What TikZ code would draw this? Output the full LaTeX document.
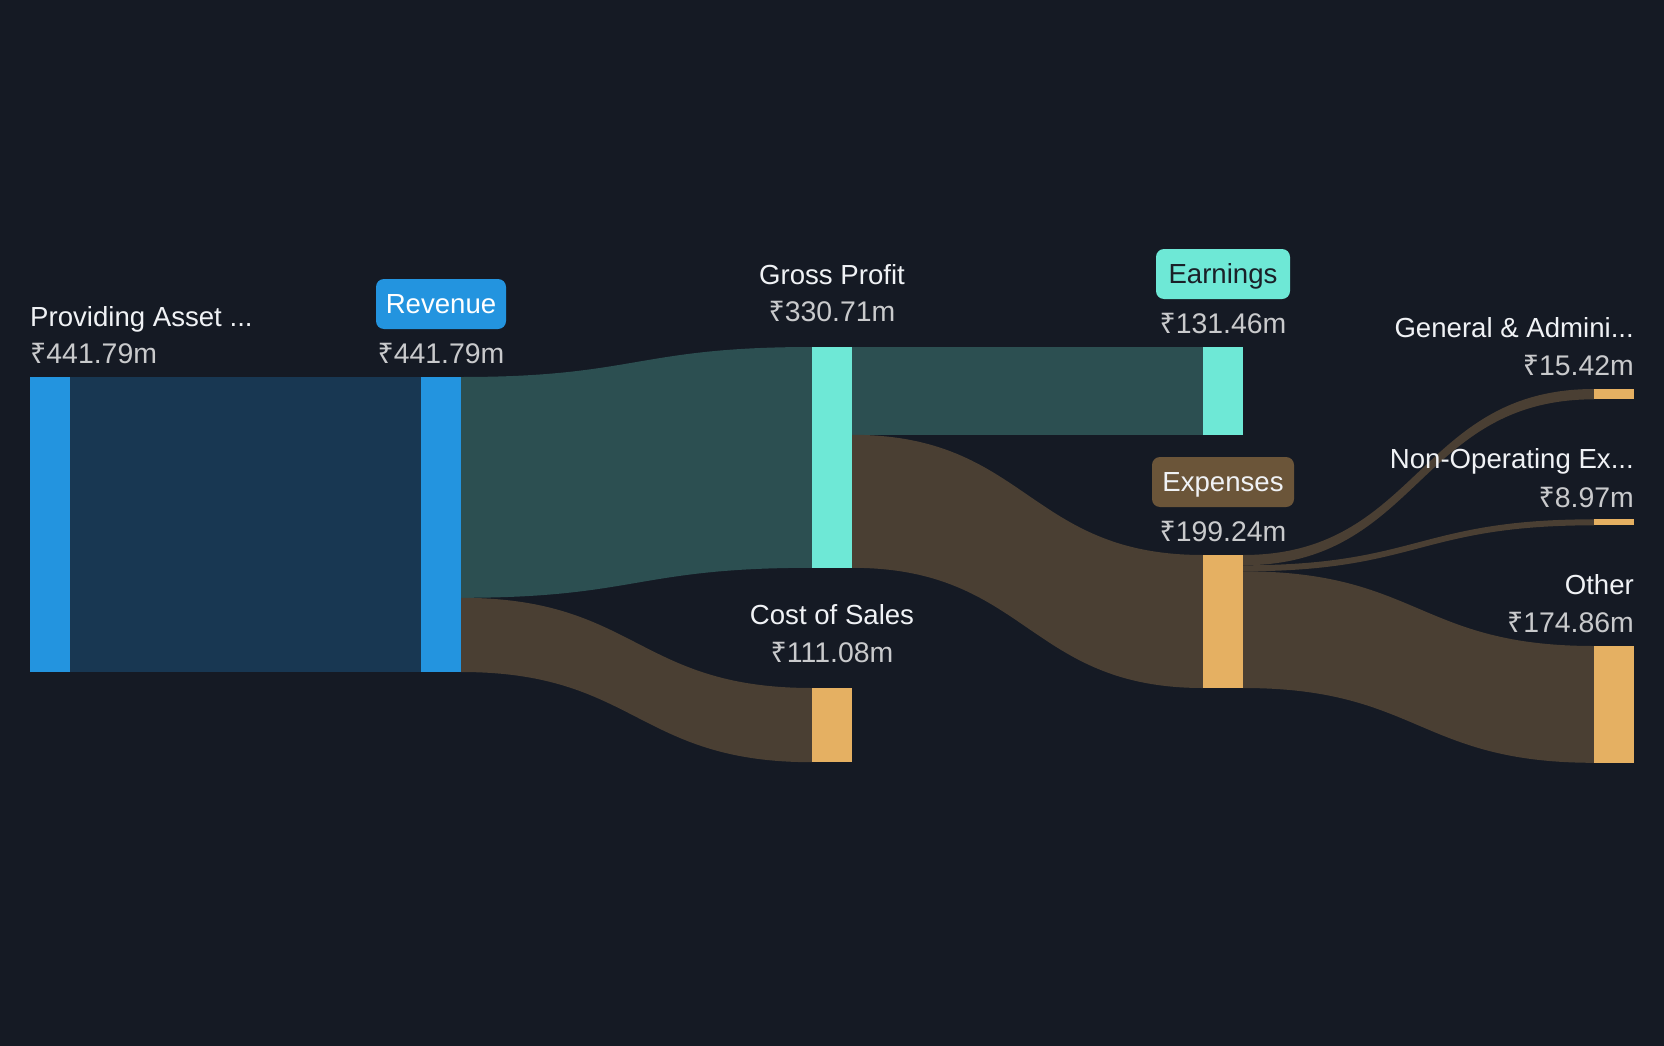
\documentclass[tikz,border=0pt]{standalone}
\usepackage{fontspec}
\setmainfont{Liberation Sans}
\newfontfamily\rupfont{Noto Sans}
\usetikzlibrary{calc}
\newcommand{\Rs}{{\rupfont ₹}}
\definecolor{bgc}{HTML}{151A24}
\definecolor{cblue}{HTML}{2394DF}
\definecolor{cteal}{HTML}{6EE8D6}
\definecolor{corange}{HTML}{E5B062}
\definecolor{fblue}{HTML}{183752}
\definecolor{fteal}{HTML}{2C4F51}
\definecolor{fbrown}{HTML}{4A3F33}
\definecolor{cbadgebrown}{HTML}{6B5539}
\definecolor{cname}{HTML}{F0F2F5}
\definecolor{cval}{HTML}{C9CACC}
\definecolor{cdark}{HTML}{1A2028}
\pgfdeclarelayer{back}
\pgfsetlayers{back,main}
\begin{document}
\begin{tikzpicture}[x=1pt,y=-1pt,
  bar/.style={anchor=north west,inner sep=0pt,outer sep=0pt,minimum width=40pt},
  lname/.style={inner sep=0pt,text=cname,font=\fontsize{27.6}{32}\selectfont},
  lval/.style={inner sep=0pt,text=cval,font=\fontsize{28.4}{32}\selectfont},
  badge/.style={inner sep=0pt,rounded corners=8pt,minimum height=50pt,text height=19.5pt,text depth=0pt,font=\fontsize{27.6}{32}\selectfont}]
\useasboundingbox (0,0) rectangle (1664,1046);
% bars
\node[bar,fill=cblue,minimum height=295pt] (P) at (30,377) {};
\node[bar,fill=cblue,minimum height=295pt] (R) at (421,377) {};
\node[bar,fill=cteal,minimum height=220.8pt] (GP) at (812,347) {};
\node[bar,fill=corange,minimum height=74.2pt] (CS) at (812,688) {};
\node[bar,fill=cteal,minimum height=87.8pt] (E) at (1203,347) {};
\node[bar,fill=corange,minimum height=133pt] (X) at (1203,555) {};
\node[bar,fill=corange,minimum height=10.3pt] (GA) at (1594,389) {};
\node[bar,fill=corange,minimum height=6pt] (NO) at (1594,519.3) {};
\node[bar,fill=corange,minimum height=116.8pt] (O) at (1594,646) {};
% split points
\coordinate (r1) at ($(R.north east)+(0,220.8)$);
\coordinate (g1) at ($(GP.north east)+(0,87.8)$);
\coordinate (x1) at ($(X.north east)+(0,10.3)$);
\coordinate (x2) at ($(X.north east)+(0,16.3)$);
\begin{pgfonlayer}{back}
\fill[bgc] (0,0) rectangle (1664,1046);
\fill[fblue] (P.north east) rectangle (R.south west);
\fill[fteal] (R.north east) .. controls +(175.5,0) and +(-175.5,0) .. (GP.north west)
  -- (GP.south west) .. controls +(-175.5,0) and +(175.5,0) .. (r1) -- cycle;
\fill[fbrown] (r1) .. controls +(175.5,0) and +(-175.5,0) .. (CS.north west)
  -- (CS.south west) .. controls +(-175.5,0) and +(175.5,0) .. (R.south east) -- cycle;
\fill[fteal] (GP.north east) rectangle (E.south west);
\fill[fbrown] (g1) .. controls +(175.5,0) and +(-175.5,0) .. (X.north west)
  -- (X.south west) .. controls +(-175.5,0) and +(175.5,0) .. (GP.south east) -- cycle;
\fill[fbrown] (X.north east) .. controls +(175.5,0) and +(-175.5,0) .. (GA.north west)
  -- (GA.south west) .. controls +(-175.5,0) and +(175.5,0) .. (x1) -- cycle;
\fill[fbrown] (x1) .. controls +(175.5,0) and +(-175.5,0) .. (NO.north west)
  -- (NO.south west) .. controls +(-175.5,0) and +(175.5,0) .. (x2) -- cycle;
\fill[fbrown] (x2) .. controls +(175.5,0) and +(-175.5,0) .. (O.north west)
  -- (O.south west) .. controls +(-175.5,0) and +(175.5,0) .. (X.south east) -- cycle;
\end{pgfonlayer}
% labels
\node[lname,anchor=base west] (Pn) at (30,326) {Providing Asset ...};
\node[lval,anchor=base west] (Pv) at (30,363) {\Rs441.79m};
\node[badge,fill=cblue,text=white,minimum width=130pt] (Rn) at (441,304) {Revenue};
\node[lval,anchor=base] (Rv) at (441,363) {\Rs441.79m};
\node[lname,anchor=base] (GPn) at (832,284) {Gross Profit};
\node[lval,anchor=base] (GPv) at (832,321) {\Rs330.71m};
\node[lname,anchor=base] (CSn) at (832,624) {Cost of Sales};
\node[lval,anchor=base] (CSv) at (832,662) {\Rs111.08m};
\node[badge,fill=cteal,text=cdark,minimum width=134pt] (En) at (1223,274) {Earnings};
\node[lval,anchor=base] (Ev) at (1223,333) {\Rs131.46m};
\node[badge,fill=cbadgebrown,text=cname,minimum width=142pt] (Xn) at (1223,482) {Expenses};
\node[lval,anchor=base] (Xv) at (1223,541) {\Rs199.24m};
\node[lname,anchor=base east] (GAn) at (1634,337) {General \& Admini...};
\node[lval,anchor=base east] (GAv) at (1634,375) {\Rs15.42m};
\node[lname,anchor=base east] (NOn) at (1634,468) {Non-Operating Ex...};
\node[lval,anchor=base east] (NOv) at (1634,507) {\Rs8.97m};
\node[lname,anchor=base east] (On) at (1634,594) {Other};
\node[lval,anchor=base east] (Ov) at (1634,632) {\Rs174.86m};
\end{tikzpicture}
\end{document}
